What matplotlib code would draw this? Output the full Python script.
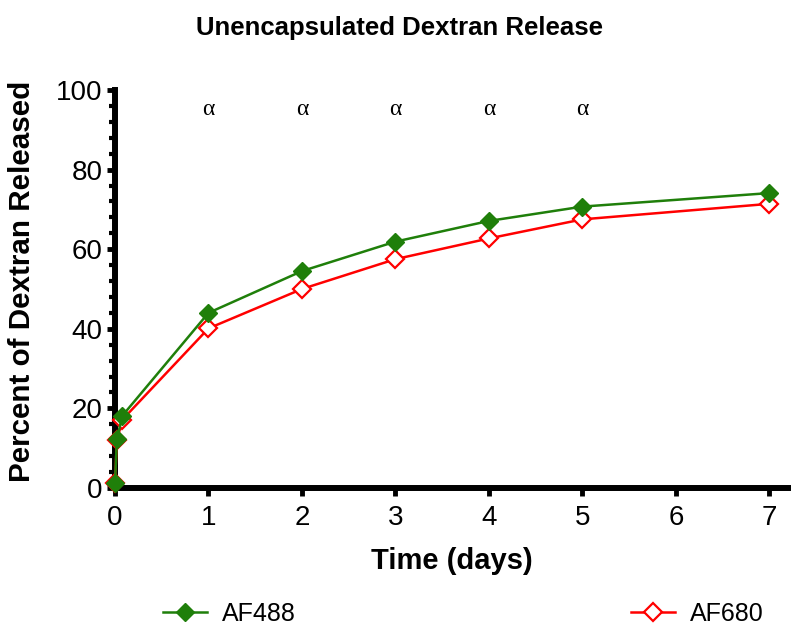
import matplotlib
matplotlib.use("Agg")
import matplotlib.pyplot as plt
from matplotlib.ticker import MultipleLocator

plt.rcParams['font.family'] = ['Liberation Sans', 'DejaVu Sans']

# data
time_days = [0, 0.02, 0.08, 1, 2, 3, 4, 5, 7]
af488 = [1.2, 12.3, 18.2, 44.0, 54.5, 61.9, 67.1, 70.7, 74.1]
af680 = [1.2, 12.0, 17.2, 40.1, 50.0, 57.5, 62.7, 67.5, 71.4]
sig_days = [1, 2, 3, 4, 5]
sig_mark = "α"

green = "#1f7f0a"
red = "#ff0000"

fig = plt.figure(figsize=(8, 6.34), dpi=100)
ax = fig.add_axes([115 / 800, 146 / 634, (788 - 115) / 800, (544 - 146) / 634])

ax.plot(time_days, af680, "-", color=red, lw=1.8, marker="D", ms=9.5,
        mfc="white", mec=red, mew=1.6, clip_on=False, zorder=3, label="AF680")
ax.plot(time_days, af488, "-", color=green, lw=1.8, marker="D", ms=9.5,
        mfc=green, mec=green, clip_on=False, zorder=4, label="AF488")

for d in sig_days:
    ax.text(d, 95, sig_mark, ha="center", va="center", fontsize=17,
            family=["Liberation Serif", "DejaVu Serif"])

ax.set_xlim(0, 7.2)
ax.set_ylim(0, 100)
ax.set_xticks(range(0, 8))
ax.yaxis.set_major_locator(MultipleLocator(20))
ax.yaxis.set_minor_locator(MultipleLocator(4))

for side in ["top", "right"]:
    ax.spines[side].set_visible(False)
for side in ["left", "bottom"]:
    ax.spines[side].set_linewidth(4.3)

ax.tick_params(axis="both", which="major", width=3.5, length=6, labelsize=20)
ax.tick_params(axis="x", which="major", pad=6)
ax.tick_params(axis="y", which="major", pad=3)
ax.tick_params(axis="y", which="minor", width=3, length=4.5)

ax.set_xlabel("Time (days)", fontsize=21, fontweight="bold", labelpad=12)
ax.set_ylabel("Percent of Dextran Released", fontsize=21.3, fontweight="bold")
ax.yaxis.set_label_coords(-0.117, 0.52)
fig.suptitle("Unencapsulated Dextran Release", fontsize=18.5, fontweight="bold", y=0.975)

h, l = ax.get_legend_handles_labels()
fig.legend([h[1], h[0]], [l[1], l[0]], loc="center left", ncol=2, frameon=False,
           fontsize=18, bbox_to_anchor=(163 / 800, 1 - 614 / 634), borderpad=0,
           borderaxespad=0, columnspacing=13.4, handlelength=1.76, handletextpad=0.6)

fig.savefig("out.png", dpi=100)
